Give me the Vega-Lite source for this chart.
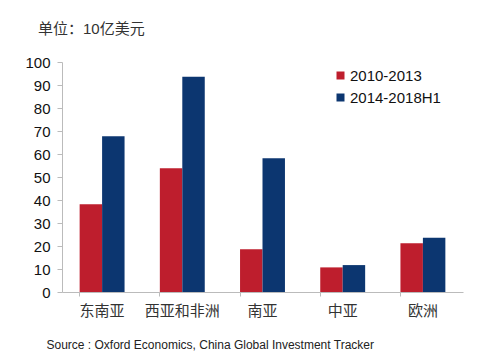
{
  "$schema": "https://vega.github.io/schema/vega-lite/v6.json",
  "width": 401,
  "height": 230,
  "autosize": {"type": "none"},
  "padding": {"left": 62, "top": 62, "right": 35, "bottom": 72},
  "background": "white",
  "config": {
    "view": {"stroke": null},
    "font": "Liberation Sans, Noto Sans CJK SC"
  },
  "title": {
    "text": "单位：10亿美元",
    "anchor": "start",
    "frame": "group",
    "dx": -24,
    "offset": 18,
    "fontSize": 15,
    "fontWeight": "normal",
    "color": "#333333",
    "font": "Liberation Sans, Noto Sans CJK SC"
  },
  "data": {
    "values": [
      {"region": "东南亚", "period": "2010-2013", "value": 38.1},
      {"region": "东南亚", "period": "2014-2018H1", "value": 67.7},
      {"region": "西亚和非洲", "period": "2010-2013", "value": 53.8},
      {"region": "西亚和非洲", "period": "2014-2018H1", "value": 93.6},
      {"region": "南亚", "period": "2010-2013", "value": 18.6},
      {"region": "南亚", "period": "2014-2018H1", "value": 58.1},
      {"region": "中亚", "period": "2010-2013", "value": 10.7},
      {"region": "中亚", "period": "2014-2018H1", "value": 11.7},
      {"region": "欧洲", "period": "2010-2013", "value": 21.2},
      {"region": "欧洲", "period": "2014-2018H1", "value": 23.6}
    ]
  },
  "mark": {"type": "bar"},
  "encoding": {
    "x": {
      "field": "region",
      "type": "nominal",
      "sort": ["东南亚", "西亚和非洲", "南亚", "中亚", "欧洲"],
      "scale": {"paddingInner": 0.44, "paddingOuter": 0.22},
      "axis": {
        "title": "Source : Oxford Economics, China Global Investment Tracker",
        "titleAnchor": "start",
        "titleAlign": "left",
        "titleX": -16,
        "titleY": 47,
        "titleFontSize": 12,
        "titleFontWeight": "normal",
        "titleColor": "#222222",
        "titleFont": "Liberation Sans",
        "labelAngle": 0,
        "labelFontSize": 15,
        "labelColor": "#333333",
        "labelPadding": 7,
        "domainColor": "#bbbbbb",
        "tickColor": "#bbbbbb",
        "tickSize": 4,
        "bandPosition": 0,
        "grid": false
      }
    },
    "xOffset": {"field": "period", "type": "nominal", "scale": {"paddingInner": 0, "paddingOuter": 0}},
    "y": {
      "field": "value",
      "type": "quantitative",
      "scale": {"domain": [0, 100]},
      "axis": {
        "title": null,
        "values": [0, 10, 20, 30, 40, 50, 60, 70, 80, 90, 100],
        "grid": false,
        "labelFontSize": 15,
        "labelColor": "#111111",
        "labelPadding": 7,
        "tickSize": 5,
        "tickColor": "#bbbbbb",
        "domainColor": "#bbbbbb"
      }
    },
    "color": {
      "field": "period",
      "type": "nominal",
      "scale": {"domain": ["2010-2013", "2014-2018H1"], "range": ["#BE1E2D", "#0C3670"]},
      "legend": {
        "title": null,
        "orient": "none",
        "legendX": 271,
        "legendY": 6,
        "symbolType": "square",
        "symbolSize": 64,
        "symbolStrokeWidth": 0,
        "labelFontSize": 15,
        "labelColor": "#111111",
        "labelOffset": 2,
        "rowPadding": 6
      }
    }
  }
}
